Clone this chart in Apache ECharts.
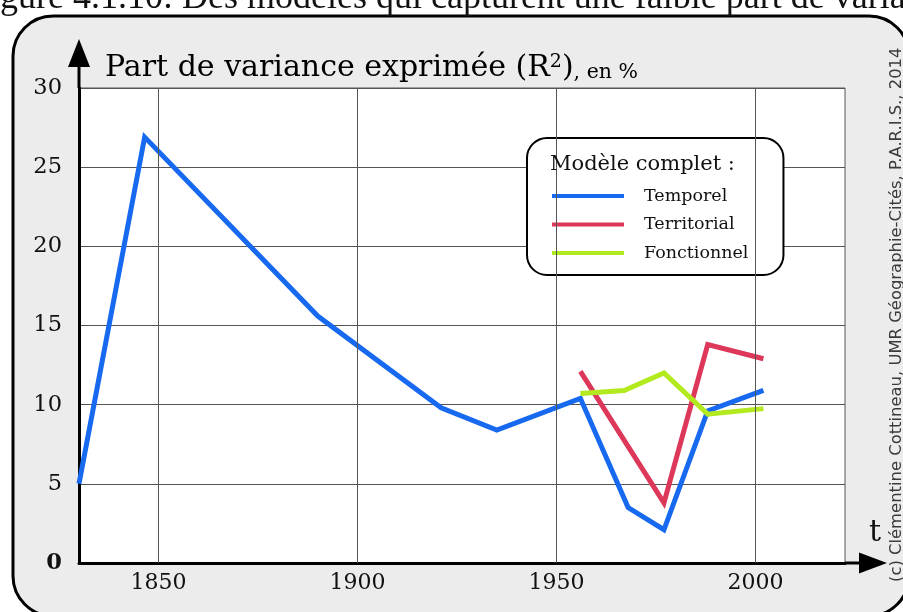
<!DOCTYPE html>
<html>
<head>
<meta charset="utf-8">
<script src="https://cdn.jsdelivr.net/npm/echarts@6/dist/echarts.min.js"></script>
<style>
  html, body { margin: 0; padding: 0; background: #ffffff; }
  #chart { width: 903px; height: 612px; }
</style>
</head>
<body>
<div id="chart"></div>
<script>
// Years shown as labelled gridlines on the time axis
const xTickYears = [1850, 1900, 1950, 2000];
// Part de variance (R², %) for each model
const temporelYears = [1830, 1846.5, 1890, 1921, 1935, 1956, 1968, 1977, 1988, 2002];
const temporelValues = [5.0, 26.9, 15.6, 9.8, 8.4, 10.4, 3.5, 2.1, 9.6, 10.9];
const territorialYears = [1956, 1977, 1988, 2002];
const territorialValues = [12.1, 3.8, 13.8, 12.9];
const fonctionnelYears = [1956, 1967, 1977, 1988, 2002];
const fonctionnelValues = [10.7, 10.9, 12.0, 9.4, 9.75];
const seriesNames = ['Temporel', 'Territorial', 'Fonctionnel'];

const SERIF = 'DejaVu Serif';
const COLORS = { Temporel: '#1769f0', Territorial: '#dd3759', Fonctionnel: '#b3ea1f' };

function pairs(xs, ys) { return xs.map((x, i) => [x, ys[i]]); }

// Arrow heads with a short stem, extending each axis past the plotting area
const arrowUp = 'path://M11 0 L22 28 L12.5 28 L12.5 49 L9.5 49 L9.5 28 L0 28 Z';
const arrowRight = 'path://M10.5 0 L21 28 L12 28 L12 42 L9 42 L9 28 L0 28 Z';

const chart = echarts.init(document.getElementById('chart'), null, { renderer: 'canvas' });

function lineSeries(name, xs, ys) {
  return {
    type: 'line', name: name, data: pairs(xs, ys), z: 3,
    symbol: 'none', animation: false,
    lineStyle: { color: COLORS[name], width: 5, join: 'miter', cap: 'butt' },
    itemStyle: { color: COLORS[name] }
  };
}

// Caption line of the surrounding document, clipped by the top of the page
const captionFont = '36px "Liberation Serif"';
const ctx = document.createElement('canvas').getContext('2d');
ctx.font = captionFont;
const captionShift = ctx.measureText('Fi').width;

const option = {
  backgroundColor: '#ffffff',
  animation: false,
  grid: {
    left: 79, right: 58, top: 88, bottom: 49,
    show: true, backgroundColor: '#ffffff', borderColor: '#555555', borderWidth: 1
  },
  xAxis: {
    type: 'value', min: 1830, max: 2022.5, interval: 10,
    axisLine: {
      show: true, lineStyle: { color: '#000000', width: 3 },
      symbol: ['none', arrowRight], symbolSize: [21, 42], symbolOffset: [0, 21]
    },
    axisTick: { show: false },
    axisLabel: {
      margin: 9, color: '#111111', fontFamily: SERIF, fontSize: 22,
      formatter: v => (xTickYears.indexOf(v) >= 0 ? String(v) : '')
    },
    splitLine: { show: false }
  },
  yAxis: {
    type: 'value', min: 0, max: 30, interval: 5,
    axisLine: {
      show: true, lineStyle: { color: '#000000', width: 3 },
      symbol: ['none', arrowUp], symbolSize: [22, 49], symbolOffset: [0, 24.5]
    },
    axisTick: { show: false },
    axisLabel: {
      margin: 17, color: '#111111', fontFamily: SERIF, fontSize: 22.5,
      formatter: v => (v === 0 ? '{zero|0}' : String(v)),
      rich: { zero: { fontFamily: SERIF, fontSize: 22.5, fontWeight: 'bold', color: '#111111' } }
    },
    splitLine: { show: true, lineStyle: { color: '#555555', width: 1 } }
  },
  legend: {
    orient: 'vertical', left: 527, top: 138,
    data: seriesNames, selectedMode: false,
    icon: 'rect', itemWidth: 72, itemHeight: 4, itemGap: 10.5,
    padding: [49, 35, 13, 25],
    backgroundColor: '#ffffff', borderColor: '#000000', borderWidth: 2, borderRadius: 20,
    textStyle: { fontFamily: SERIF, fontSize: 17.5, color: '#111111', padding: [0, 0, 0, 15] }
  },
  graphic: [
    {
      type: 'rect', z: -100, silent: true,
      shape: { x: 13, y: 16, width: 896, height: 600, r: 40 },
      style: { fill: '#ececec', stroke: '#000000', lineWidth: 3 }
    },
    {
      type: 'text', z: 10, silent: true, x: -captionShift, y: -1,
      style: {
        text: 'Figure 4.1.10: Des modèles qui capturent une faible part de variance',
        font: captionFont, fill: '#111111', textVerticalAlign: 'middle'
      }
    },
    {
      type: 'text', z: 10, silent: true, x: 105, y: 83,
      style: {
        text: '{a|Part de variance exprimée (R}{s|2}{a|)}{b|, en %}',
        textVerticalAlign: 'bottom',
        rich: {
          a: { fontFamily: SERIF, fontSize: 30, color: '#111111', verticalAlign: 'bottom' },
          s: { fontFamily: SERIF, fontSize: 19, color: '#111111', verticalAlign: 'top' },
          b: { fontFamily: SERIF, fontSize: 20.5, color: '#111111', verticalAlign: 'bottom' }
        }
      }
    },
    {
      type: 'text', z: 10, silent: true, x: 550, y: 165,
      style: { text: 'Modèle complet :', font: '21px "DejaVu Serif"', fill: '#111111', textVerticalAlign: 'middle' }
    },
    {
      type: 'text', z: 10, silent: true, x: 875, y: 533,
      style: { text: 't', font: '30px "DejaVu Serif"', fill: '#111111', textAlign: 'center', textVerticalAlign: 'middle' }
    },
    {
      type: 'text', z: 10, silent: true, x: 897, y: 582, rotation: Math.PI / 2,
      style: {
        text: '(c) Clémentine Cottineau, UMR Géographie-Cités, P.A.R.I.S., 2014',
        font: '16.4px "DejaVu Sans"', fill: '#3a3a3a', textAlign: 'left', textVerticalAlign: 'middle'
      }
    }
  ],
  series: [
    {
      // vertical gridlines at the labelled years, kept beneath the curves
      type: 'line', name: 'grid-years', data: [], z: 1, silent: true,
      markLine: {
        silent: true, symbol: ['none', 'none'], label: { show: false },
        lineStyle: { color: '#555555', width: 1, type: 'solid' },
        data: xTickYears.map(y => ({ xAxis: y }))
      }
    },
    lineSeries('Temporel', temporelYears, temporelValues),
    lineSeries('Territorial', territorialYears, territorialValues),
    lineSeries('Fonctionnel', fonctionnelYears, fonctionnelValues)
  ]
};

chart.setOption(option);
</script>
</body>
</html>
